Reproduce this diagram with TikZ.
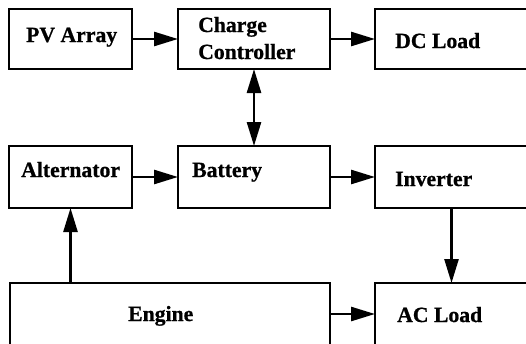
\documentclass[tikz,border=0pt]{standalone}
\usepackage{fontspec}
\setmainfont{Liberation Serif}[BoldFeatures={FakeBold=0.8}]
\usetikzlibrary{arrows.meta}
\begin{document}
\begin{tikzpicture}[x=1pt,y=-1pt,
  box/.style={draw=black, line width=2.1pt, inner sep=0pt, outer sep=0pt},
  thickbox/.style={box, line width=2.7pt},
  lbl/.style={anchor=base west, inner sep=0pt, font=\fontsize{21.7pt}{24pt}\selectfont\bfseries},
  conn/.style={line width=2.6pt, -{Triangle[length=24pt,width=14pt]}},
  dconn/.style={line width=2.6pt, {Triangle[length=24pt,width=14pt]}-{Triangle[length=24pt,width=14pt]}}]
\useasboundingbox (0,0) rectangle (526,343);
% boxes
\node[thickbox, minimum width=123pt, minimum height=60pt] (pv) at (70.5,39) {};
\node[box, minimum width=152pt, minimum height=60pt] (cc) at (254,39) {};
\node[box, minimum width=153pt, minimum height=60pt] (dc) at (451.5,39) {};
\node[thickbox, minimum width=123pt, minimum height=62pt] (alt) at (70.5,177) {};
\node[box, minimum width=152pt, minimum height=62pt] (bat) at (254,177) {};
\node[box, minimum width=153pt, minimum height=62pt] (inv) at (451.5,177) {};
\node[box, minimum width=320pt, minimum height=62pt] (eng) at (170,314) {};
\node[box, minimum width=153pt, minimum height=62pt] (ac) at (451.5,314) {};
% labels
\node[lbl] (tpv) at (26,42) {PV Array};
\node[lbl] (tcc1) at (198,32) {Charge};
\node[lbl] (tcc2) at (198,59) {Controller};
\node[lbl] (tdc) at (395,48) {DC Load};
\node[lbl] (talt) at (21,177) {Alternator};
\node[lbl] (tbat) at (192,177) {Battery};
\node[lbl] (tinv) at (395,186) {Inverter};
\node[lbl] (teng) at (128,321) {Engine};
\node[lbl] (tac) at (397,322) {AC Load};
% connectors
\draw[conn] (pv) -- (cc);
\draw[conn] (cc) -- (dc);
\draw[dconn] (cc) -- (bat);
\draw[conn] (alt) -- (bat);
\draw[conn] (bat) -- (inv);
\draw[conn] (alt.south |- eng.north) -- (alt.south);
\draw[conn] (inv.south) -- (ac.north);
\draw[conn] (eng) -- (ac);
\end{tikzpicture}
\end{document}
